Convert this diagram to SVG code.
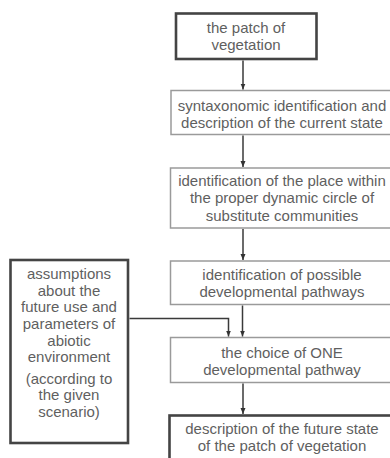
<svg xmlns="http://www.w3.org/2000/svg" width="390" height="458" viewBox="0 0 390 458">
<style>
text{font-family:"Liberation Sans",Arial,sans-serif;font-size:15px;fill:#5f5f5f;text-anchor:middle}
.thin{fill:#fff;stroke:#9a9a9a;stroke-width:1.5}
.thick{fill:#fff;stroke:#444;stroke-width:2.6}
.conn{fill:none;stroke:#3a3a3a;stroke-width:1.5}
</style>
<defs>
<marker id="ah" viewBox="0 0 6 6" refX="6" refY="3" markerWidth="6" markerHeight="6" markerUnits="userSpaceOnUse" orient="auto">
<path d="M0,0.5 L6,3 L0,5.5 Z" fill="#333"/>
</marker>
</defs>
<rect x="0" y="0" width="390" height="458" fill="#fff"/>
<g id="n1">
<rect class="thick" x="176" y="13.5" width="140.5" height="45.5"/>
<text x="246" y="32.5">the patch of</text>
<text x="246" y="50">vegetation</text>
</g>
<g id="n2">
<rect class="thin" x="171" y="90.5" width="224" height="44"/>
<text x="282" y="110.5">syntaxonomic identification and</text>
<text x="282" y="127.5">description of the current state</text>
</g>
<g id="n3">
<rect class="thin" x="170.5" y="168" width="224" height="60"/>
<text x="282" y="186">identification of the place within</text>
<text x="282" y="203">the proper dynamic circle of</text>
<text x="282" y="220.5">substitute communities</text>
</g>
<g id="n4">
<rect class="thin" x="170.5" y="261" width="224" height="43.5"/>
<text x="282" y="279.5">identification of possible</text>
<text x="282" y="297">developmental pathways</text>
</g>
<g id="n5">
<rect class="thin" x="170.5" y="337.5" width="224" height="45"/>
<text x="282" y="357.5">the choice of ONE</text>
<text x="282" y="375">developmental pathway</text>
</g>
<g id="n6">
<rect class="thick" x="169.5" y="415.5" width="226" height="60"/>
<text x="282" y="433.5">description of the future state</text>
<text x="282" y="451">of the patch of vegetation</text>
</g>
<g id="n7">
<rect class="thick" x="10.5" y="260" width="117.5" height="183"/>
<text x="69" y="279">assumptions</text>
<text x="69" y="295.5">about the</text>
<text x="69" y="312">future use and</text>
<text x="69" y="329">parameters of</text>
<text x="69" y="345.5">abiotic</text>
<text x="69" y="362">environment</text>
<text x="69" y="383.5">(according to</text>
<text x="69" y="400">the given</text>
<text x="69" y="416.5">scenario)</text>
</g>
<g id="connectors">
<path class="conn" d="M243,60.5 V89.5" marker-end="url(#ah)"/>
<path class="conn" d="M243,135.5 V167" marker-end="url(#ah)"/>
<path class="conn" d="M243,229 V260" marker-end="url(#ah)"/>
<path class="conn" d="M242.5,305.5 V336.5" marker-end="url(#ah)"/>
<path class="conn" d="M243,383.5 V414" marker-end="url(#ah)"/>
<path class="conn" d="M129.5,318.5 H228.5 V336.5" marker-end="url(#ah)"/>
</g>
</svg>
